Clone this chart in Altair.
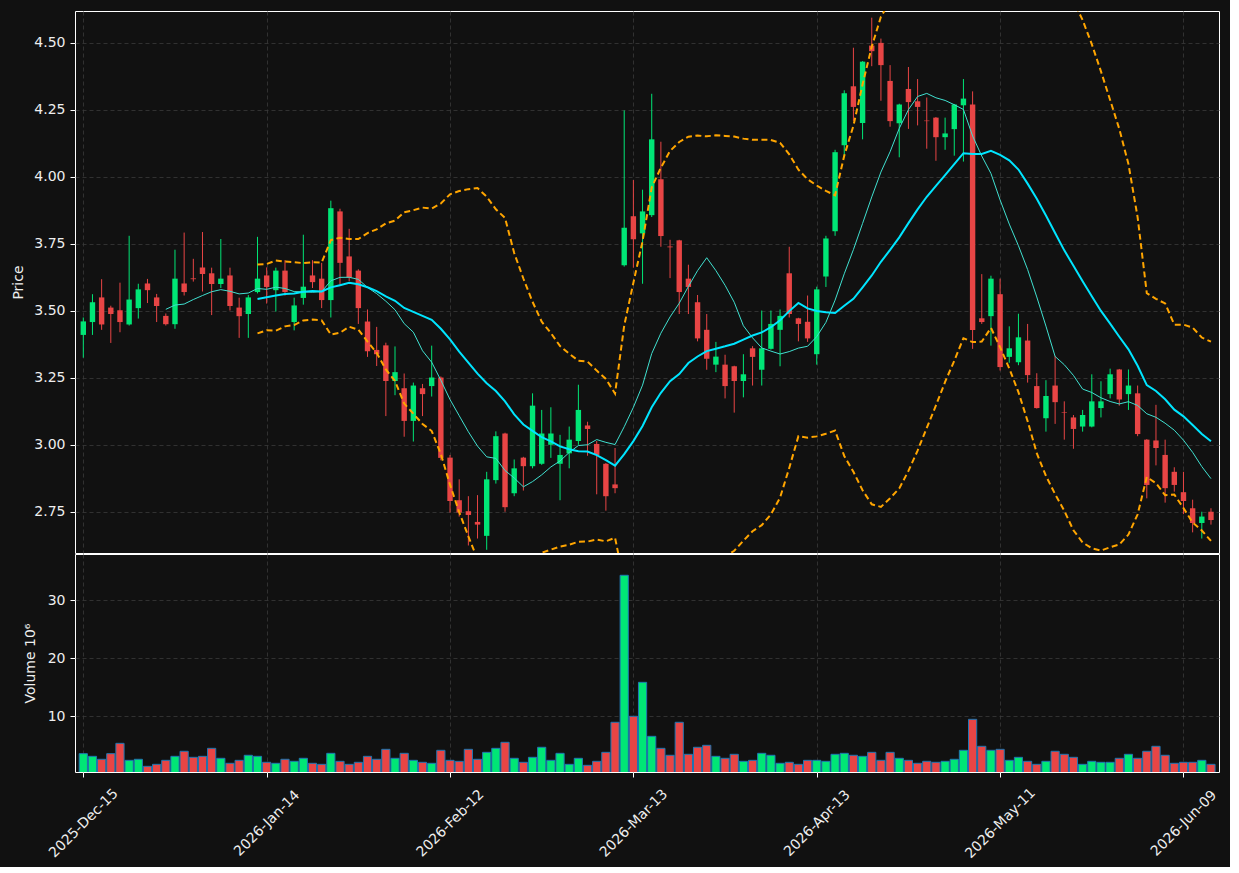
import altair as alt
import pandas as pd

# ---- data (124 sessions, index 0..123) ----
opens = [3.410, 3.458, 3.550, 3.512, 3.502, 3.449, 3.510, 3.602, 3.550, 3.481,
         3.450, 3.602, 3.621, 3.662, 3.640, 3.600, 3.632, 3.512, 3.488, 3.570,
         3.632, 3.577, 3.650, 3.458, 3.548, 3.632, 3.620, 3.540, 3.871, 3.703,
         3.650, 3.460, 3.354, 3.371, 3.238, 3.211, 3.089, 3.211, 3.219, 3.251,
         2.952, 2.793, 2.752, 2.712, 2.660, 2.868, 3.042, 2.819, 2.952, 2.920,
         2.929, 3.000, 2.929, 2.968, 3.014, 3.072, 3.003, 2.929, 2.852, 3.670,
         3.853, 3.789, 3.857, 3.991, 3.740, 3.763, 3.620, 3.532, 3.429, 3.299,
         3.299, 3.293, 3.238, 3.360, 3.280, 3.358, 3.429, 3.640, 3.472, 3.459,
         3.338, 3.628, 3.797, 4.118, 4.338, 4.201, 4.490, 4.500, 4.358, 4.200,
         4.328, 4.282, 4.210, 4.221, 4.148, 4.178, 4.267, 4.270, 3.472, 3.480,
         3.562, 3.328, 3.308, 3.389, 3.219, 3.099, 3.221, 3.122, 3.102, 3.068,
         3.068, 3.137, 3.189, 3.281, 3.189, 3.192, 3.019, 3.016, 2.962, 2.899,
         2.823, 2.763, 2.708, 2.750]
highs = [3.475, 3.562, 3.618, 3.519, 3.605, 3.780, 3.601, 3.619, 3.563, 3.490,
         3.728, 3.792, 3.694, 3.794, 3.661, 3.768, 3.661, 3.549, 3.559, 3.776,
         3.662, 3.661, 3.689, 3.549, 3.784, 3.689, 3.679, 3.911, 3.881, 3.806,
         3.655, 3.505, 3.440, 3.381, 3.367, 3.266, 3.232, 3.227, 3.370, 3.255,
         2.962, 2.871, 2.808, 2.812, 2.899, 3.050, 3.045, 2.945, 2.955, 3.192,
         3.130, 3.140, 3.037, 3.068, 3.224, 3.086, 3.014, 2.932, 2.988, 4.248,
         3.988, 3.952, 4.310, 4.131, 3.765, 3.765, 3.672, 3.559, 3.488, 3.384,
         3.336, 3.295, 3.338, 3.368, 3.501, 3.501, 3.505, 3.739, 3.474, 3.557,
         3.590, 3.780, 4.101, 4.323, 4.482, 4.432, 4.594, 4.516, 4.417, 4.273,
         4.410, 4.365, 4.296, 4.223, 4.221, 4.272, 4.365, 4.319, 3.637, 3.631,
         3.620, 3.442, 3.489, 3.451, 3.267, 3.241, 3.332, 3.162, 3.111, 3.130,
         3.263, 3.237, 3.284, 3.283, 3.281, 3.221, 3.021, 3.149, 3.019, 2.916,
         2.899, 2.795, 2.750, 2.763]
lows = [3.325, 3.410, 3.429, 3.380, 3.420, 3.445, 3.471, 3.529, 3.458, 3.445,
        3.433, 3.557, 3.609, 3.572, 3.484, 3.585, 3.501, 3.399, 3.399, 3.565,
        3.527, 3.497, 3.557, 3.427, 3.523, 3.585, 3.510, 3.475, 3.598, 3.611,
        3.451, 3.328, 3.294, 3.107, 3.185, 3.030, 3.012, 3.107, 3.180, 2.942,
        2.747, 2.732, 2.624, 2.650, 2.608, 2.855, 2.750, 2.808, 2.829, 2.912,
        2.925, 2.951, 2.793, 2.912, 3.000, 2.959, 2.815, 2.754, 2.819, 3.665,
        3.661, 3.601, 3.850, 3.739, 3.622, 3.488, 3.488, 3.386, 3.280, 3.271,
        3.173, 3.120, 3.177, 3.221, 3.221, 3.355, 3.293, 3.475, 3.386, 3.384,
        3.299, 3.589, 3.780, 4.076, 4.209, 4.140, 4.413, 4.284, 4.187, 4.073,
        4.179, 4.192, 4.105, 4.060, 4.101, 4.079, 4.057, 3.358, 3.451, 3.370,
        3.277, 3.306, 3.297, 3.232, 3.135, 3.049, 3.078, 3.019, 2.985, 3.049,
        3.065, 3.102, 3.173, 3.146, 3.130, 3.032, 2.800, 2.923, 2.784, 2.825,
        2.741, 2.673, 2.650, 2.702]
closes = [3.4605, 3.532, 3.449, 3.488, 3.458, 3.542, 3.580, 3.577, 3.518, 3.450,
          3.620, 3.570, 3.618, 3.637, 3.600, 3.620, 3.518, 3.480, 3.550, 3.620,
          3.589, 3.650, 3.570, 3.520, 3.590, 3.607, 3.540, 3.883, 3.679, 3.624,
          3.510, 3.349, 3.338, 3.238, 3.271, 3.089, 3.221, 3.189, 3.251, 2.951,
          2.790, 2.747, 2.738, 2.702, 2.871, 3.032, 2.767, 2.912, 2.920, 3.146,
          3.042, 3.042, 2.962, 3.019, 3.130, 3.059, 2.962, 2.808, 2.838, 3.810,
          3.767, 3.871, 4.140, 3.779, 3.737, 3.570, 3.589, 3.397, 3.321, 3.329,
          3.219, 3.238, 3.263, 3.328, 3.360, 3.451, 3.481, 3.488, 3.451, 3.397,
          3.580, 3.770, 4.092, 4.312, 4.261, 4.430, 4.469, 4.417, 4.208, 4.270,
          4.279, 4.261, 4.208, 4.148, 4.162, 4.270, 4.292, 3.428, 3.458, 3.620,
          3.290, 3.360, 3.401, 3.260, 3.137, 3.182, 3.159, 3.120, 3.059, 3.111,
          3.162, 3.162, 3.263, 3.169, 3.221, 3.040, 2.850, 2.988, 2.838, 2.850,
          2.790, 2.708, 2.732, 2.719]
volumes_m = [3.56, 3.10, 2.59, 3.56, 5.34, 2.41, 2.59, 1.38, 1.72, 2.41,
             3.10, 3.97, 2.93, 3.10, 4.48, 2.76, 1.90, 2.41, 3.28, 3.10,
             2.07, 1.90, 2.59, 2.24, 2.76, 1.90, 1.72, 3.62, 2.24, 1.72,
             2.07, 3.10, 2.59, 4.31, 2.76, 3.62, 2.41, 2.07, 1.90, 4.14,
             2.41, 2.24, 4.31, 2.59, 3.79, 4.48, 5.52, 2.76, 2.07, 2.93,
             4.66, 2.41, 3.62, 1.72, 2.76, 1.55, 2.24, 3.79, 8.97, 34.31,
             10.0, 15.86, 6.55, 4.48, 3.28, 8.97, 3.45, 4.66, 5.00, 3.10,
             2.76, 3.45, 2.24, 2.41, 3.62, 3.28, 1.90, 2.07, 1.72, 2.41,
             2.41, 2.24, 3.45, 3.62, 3.28, 3.10, 3.79, 2.41, 3.79, 2.76,
             2.41, 1.90, 2.24, 2.07, 2.24, 2.59, 4.14, 9.48, 4.83, 4.14,
             4.31, 2.41, 2.93, 2.24, 1.72, 2.24, 3.97, 3.45, 2.93, 1.72,
             2.24, 2.07, 2.07, 2.76, 3.45, 2.76, 3.97, 4.83, 3.28, 1.90,
             2.07, 2.07, 2.41, 1.72]

tick_positions = [0, 20, 40, 60, 80, 100, 120]
tick_labels = ["2025-Dec-15", "2026-Jan-14", "2026-Feb-12", "2026-Mar-13",
               "2026-Apr-13", "2026-May-11", "2026-Jun-09"]
price_ticks = [2.75, 3.00, 3.25, 3.50, 3.75, 4.00, 4.25, 4.50]
volume_ticks = [10, 20, 30]

df = pd.DataFrame({
    "i": list(range(len(closes))),
    "o": opens, "h": highs, "l": lows, "c": closes, "v": volumes_m,
})
df["dir"] = ["up" if c >= o else "down" for o, c in zip(opens, closes)]

# ---- styling ----
BG = "#111111"
FONT = "DejaVu Sans"
x_scale = alt.Scale(domain=[-0.36, 123.33], nice=False, zero=False)
price_scale = alt.Scale(domain=[2.596, 4.619], nice=False, zero=False)
vol_scale = alt.Scale(domain=[0.40, 37.98], nice=False, zero=False)
candle_colors = alt.Scale(domain=["up", "down"], range=["#00e676", "#e84545"])
volume_colors = alt.Scale(domain=["up", "down"], range=["#00ff80", "#ff4a4a"])

label_expr = "".join(
    f"datum.value == {p} ? '{t}' : " for p, t in zip(tick_positions, tick_labels)
) + "''"

x_hidden = alt.X("i:Q", scale=x_scale, title=None,
                 axis=alt.Axis(values=tick_positions, labels=False, ticks=False,
                               domain=False, grid=True, minExtent=0,
                               maxExtent=0, labelPadding=0, offset=0))

base = alt.Chart(df)

wicks = base.mark_rule(strokeWidth=1).encode(
    x=x_hidden,
    y=alt.Y("l:Q", scale=price_scale, title="Price",
            axis=alt.Axis(values=price_ticks, format=".2f", grid=True,
                          titlePadding=8)),
    y2="h:Q",
    color=alt.Color("dir:N", scale=candle_colors, legend=None),
)
bodies = base.mark_bar(size=5.4).encode(
    x=x_hidden,
    y=alt.Y("o:Q", scale=price_scale),
    y2="c:Q",
    color=alt.Color("dir:N", scale=candle_colors, legend=None),
)

ma10 = base.transform_window(
    ma10="mean(c)", n10="count()", frame=[-9, 0], sort=[alt.SortField("i")]
).transform_filter("datum.n10 >= 10").mark_line(
    color="#40e0d0", strokeWidth=1, clip=True
).encode(x=x_hidden, y=alt.Y("ma10:Q", scale=price_scale))

win20 = base.transform_window(
    ma20="mean(c)", sd20="stdev(c)", n20="count()", frame=[-19, 0],
    sort=[alt.SortField("i")]
).transform_filter("datum.n20 >= 20").transform_calculate(
    upper="datum.ma20 + 2 * datum.sd20", lower="datum.ma20 - 2 * datum.sd20"
)
ma20 = win20.mark_line(color="#00e5ff", strokeWidth=2, clip=True).encode(
    x=x_hidden, y=alt.Y("ma20:Q", scale=price_scale))
upper = win20.mark_line(color="#ffa500", strokeWidth=2, strokeDash=[6, 3.5],
                        clip=True).encode(
    x=x_hidden, y=alt.Y("upper:Q", scale=price_scale))
lower = win20.mark_line(color="#ffa500", strokeWidth=2, strokeDash=[6, 3.5],
                        clip=True).encode(
    x=x_hidden, y=alt.Y("lower:Q", scale=price_scale))

price = alt.layer(wicks, bodies, upper, lower, ma10, ma20).properties(
    width=1144, height=542)

vol = base.mark_bar(size=8.2, stroke="#1f77b4", strokeWidth=1, clip=True).encode(
    x=alt.X("i:Q", scale=x_scale, title=None,
            axis=alt.Axis(values=tick_positions, labelExpr=label_expr,
                          labelAngle=-45, labelAlign="center",
                          labelBaseline="middle", labelPadding=46, grid=True,
                          labelFontSize=14)),
    y=alt.Y("v:Q", scale=vol_scale, title="Volume  10⁶",
            axis=alt.Axis(values=volume_ticks, format="d", grid=True,
                          titlePadding=10)),
    color=alt.Color("dir:N", scale=volume_colors, legend=None),
).properties(width=1144, height=218)

chart = alt.vconcat(price, vol, spacing=-3).properties(
    background=BG,
    padding={"left": 11, "top": 10, "right": 10, "bottom": 5},
).configure_view(
    stroke="#ffffff", strokeWidth=1, fill=BG
).configure_axis(
    labelColor="#eeeeee", titleColor="#eeeeee", tickColor="#ffffff",
    domain=False, gridColor="#3a3a3a", gridDash=[4, 3], gridWidth=0.8,
    labelFont=FONT, titleFont=FONT, labelFontSize=14, titleFontSize=14,
    titleFontWeight="normal", tickSize=5, labelPadding=5,
)

chart.save("out.html", embed_options={"renderer": "svg", "actions": False})
